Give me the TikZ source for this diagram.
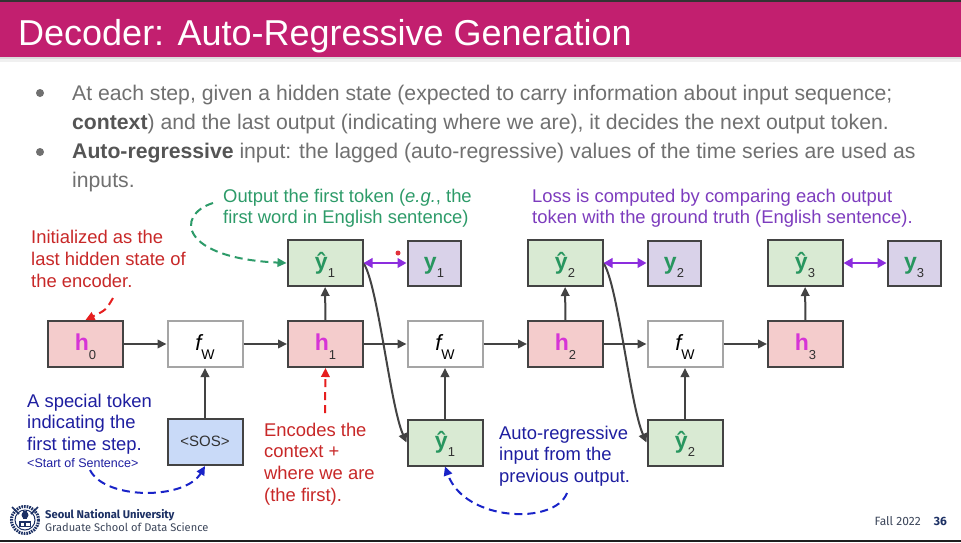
\documentclass[tikz,border=0pt]{standalone}
\usepackage{fontspec}
\setmainfont{Liberation Sans}
\newfontfamily\footfont{Fira Sans}
\usetikzlibrary{arrows.meta}
\definecolor{titlebg}{RGB}{194,31,111}
\definecolor{bodyc}{RGB}{112,112,112}
\definecolor{boldc}{RGB}{85,85,85}
\definecolor{boxline}{RGB}{67,67,67}
\definecolor{fline}{RGB}{165,165,165}
\definecolor{hfill}{RGB}{244,204,204}
\definecolor{yfill}{RGB}{217,234,211}
\definecolor{gtfill}{RGB}{217,210,233}
\definecolor{sosfill}{RGB}{201,218,248}
\definecolor{hcol}{RGB}{214,52,214}
\definecolor{ycol}{RGB}{40,150,95}
\definecolor{subc}{RGB}{50,50,50}
\definecolor{arrowc}{RGB}{67,67,67}
\definecolor{losscol}{RGB}{140,45,222}
\definecolor{purpletext}{RGB}{125,60,190}
\definecolor{greentext}{RGB}{45,155,105}
\definecolor{redtext}{RGB}{200,40,40}
\definecolor{reddash}{RGB}{230,30,30}
\definecolor{bluetext}{RGB}{30,30,160}
\definecolor{bluedash}{RGB}{25,35,200}
\definecolor{navy}{RGB}{28,48,100}
\definecolor{footgray}{RGB}{60,70,90}
\definecolor{reddot}{RGB}{225,50,60}
\newcommand\hlab[1]{{\fontsize{23}{23}\selectfont\bfseries\color{hcol}h}\raisebox{-9pt}{\fontsize{13}{13}\selectfont\color{subc}#1}}
\newcommand\yhlab[1]{{\fontsize{23}{23}\selectfont\bfseries\color{ycol}ŷ}\raisebox{-8pt}{\fontsize{13}{13}\selectfont\color{subc}#1}}
\newcommand\ylab[1]{{\fontsize{23}{23}\selectfont\bfseries\color{ycol}y}\raisebox{-8pt}{\fontsize{13}{13}\selectfont\color{subc}#1}}
\newcommand\fwlab{{\fontsize{22}{22}\selectfont\itshape f}\raisebox{-9pt}{\fontsize{14}{14}\selectfont W}}
\tikzset{
 box/.style={draw=boxline, line width=2pt, minimum width=75pt, minimum height=46pt, inner sep=0pt, text height=16pt, text depth=4pt},
 hbox/.style={box, fill=hfill},
 fbox/.style={box, draw=fline, fill=white},
 yhbox/.style={box, fill=yfill},
 ybox/.style={box, fill=gtfill, minimum width=53pt, minimum height=45pt},
 sosbox/.style={box, fill=sosfill, text height=11pt, text depth=3pt, font=\fontsize{15}{15}\selectfont\color{subc}},
 conn/.style={draw=arrowc, line width=2pt, -{Triangle[length=9pt,width=8.5pt]}},
 loss/.style={draw=losscol, line width=2.5pt, {Triangle[length=9pt,width=9.5pt]}-{Triangle[length=9pt,width=9.5pt]}},
 note/.style={anchor=base west, inner sep=0pt, font=\fontsize{18.4}{22}\selectfont},
 body/.style={anchor=base west, inner sep=0pt, font=\fontsize{21.2}{24}\selectfont, text=bodyc},
 dashy/.style={line width=2pt, dash pattern=on 8pt off 5pt, -{Triangle[length=9pt,width=8.5pt]}},
}
\begin{document}
\begin{tikzpicture}[x=1pt,y=-1pt]
\useasboundingbox (0,0) rectangle (961,542);
\fill[white] (0,0) rectangle (961,542);
% title bar
\fill[titlebg] (0,0) rectangle (961,57);
\fill[black!14] (0,57) rectangle (961,59);
\fill[black!6] (0,59) rectangle (961,62);
\fill[black!80] (0,0) rectangle (961,1.5);
\fill[black!88] (0,539.5) rectangle (961,542);
\node[anchor=base west, inner sep=0pt, text=white, font=\fontsize{36}{40}\selectfont] (title) at (18,45) {Decoder: Auto-Regressive Generation};
% bullets
\fill[bodyc] (40,93) circle (4);
\fill[bodyc] (40,152) circle (4);
\node[body] (l1) at (72,100) {At each step, given a hidden state (expected to carry information about input sequence;};
\node[body] (l2) at (72,129) {\textcolor{boldc}{\bfseries context}) and the last output (indicating where we are), it decides the next output token.};
\node[body] (l3) at (72,158) {\textcolor{boldc}{\bfseries Auto-regressive} input: the lagged (auto-regressive) values of the time series are used as};
\node[body] (l4) at (72,187) {inputs.};
% boxes
\node[hbox] (h0) at (85.5,344) {\hlab{0}};
\node[fbox] (f1) at (205,344) {\fwlab};
\node[hbox] (h1) at (325.5,344) {\hlab{1}};
\node[fbox] (f2) at (445,344) {\fwlab};
\node[hbox] (h2) at (565.5,344) {\hlab{2}};
\node[fbox] (f3) at (685,344) {\fwlab};
\node[hbox] (h3) at (805.5,344) {\hlab{3}};
\node[yhbox] (yh1) at (325,263) {\yhlab{1}};
\node[ybox] (y1) at (434,263) {\ylab{1}};
\node[yhbox] (yh2) at (565,263) {\yhlab{2}};
\node[ybox] (y2) at (674,263) {\ylab{2}};
\node[yhbox] (yh3) at (805,263) {\yhlab{3}};
\node[ybox] (y3) at (914,263) {\ylab{3}};
\node[sosbox] (sos) at (205,442) {<SOS>};
\node[yhbox] (yb1) at (445,442.5) {\yhlab{1}};
\node[yhbox] (yb2) at (685,442.5) {\yhlab{2}};
% connectors
\draw[conn] (h0) -- (f1);
\draw[conn] (f1) -- (h1);
\draw[conn] (h1) -- (f2);
\draw[conn] (f2) -- (h2);
\draw[conn] (h2) -- (f3);
\draw[conn] (f3) -- (h3);
\draw[conn] (sos) -- (f1);
\draw[conn] (h1) -- (yh1);
\draw[conn] (h2) -- (yh2);
\draw[conn] (h3) -- (yh3);
\draw[conn] (yb1) -- (f2);
\draw[conn] (yb2) -- (f3);
\draw[conn] (yh1.east) .. controls (378,285) and (390,405) .. (yb1.west);
\draw[conn] (yh2.east) .. controls (618,285) and (630,405) .. (yb2.west);
\draw[loss] (yh1) -- (y1);
\draw[loss] (yh2) -- (y2);
\draw[loss] (yh3) -- (y3);
\fill[reddot] (398,253) circle (2.5);
% notes
\node[note, text=greentext] (g1) at (223,202) {Output the first token (\textit{e.g.}, the};
\node[note, text=greentext] (g2) at (223,223) {first word in English sentence)};
\node[note, text=purpletext] (p1) at (532,202) {Loss is computed by comparing each output};
\node[note, text=purpletext] (p2) at (532,223) {token with the ground truth (English sentence).};
\node[note, text=redtext] (r1) at (31,243) {Initialized as the};
\node[note, text=redtext] (r2) at (31,265) {last hidden state of};
\node[note, text=redtext] (r3) at (31,287) {the encoder.};
\node[note, text=bluetext] (b1) at (27,407) {A special token};
\node[note, text=bluetext] (b2) at (27,428.5) {indicating the};
\node[note, text=bluetext] (b3) at (27,450) {first time step.};
\node[note, text=bluetext, font=\fontsize{12.5}{14}\selectfont] (b4) at (27,467) {<Start of Sentence>};
\node[note, text=redtext] (e1) at (264,436) {Encodes the};
\node[note, text=redtext] (e2) at (264,457.5) {context +};
\node[note, text=redtext] (e3) at (264,479) {where we are};
\node[note, text=redtext] (e4) at (264,501) {(the first).};
\node[note, text=bluetext] (a1) at (499,439) {Auto-regressive};
\node[note, text=bluetext] (a2) at (499,460.5) {input from the};
\node[note, text=bluetext] (a3) at (499,482) {previous output.};
% dashed annotation arrows
\coordinate (gstart) at (213,203);
\coordinate (rstart) at (113,298);
\coordinate (r2start) at (325,413);
\coordinate (b1start) at (90,470);
\coordinate (b2start) at (567,493);
\draw[dashy, draw=greentext] (gstart) .. controls (175,215) and (180,258) .. (yh1.west);
\draw[dashy, draw=reddash] (rstart) .. controls (106,310) .. (h0.north);
\draw[dashy, draw=reddash] (r2start) -- (h1.south);
\draw[dashy, draw=bluedash] (b1start) .. controls (105,500) and (185,500) .. (sos.south);
\draw[dashy, draw=bluedash] (b2start) .. controls (555,525) and (465,522) .. (yb1.south);
% footer logo (simplified emblem)
\begin{scope}[shift={(25,520)}]
\draw[navy, line width=3pt, dash pattern=on 1.6pt off 1pt] (0,0) circle (13.5);
\draw[navy, line width=1pt] (0,0) circle (10);
\fill[navy] (-6,1) rectangle (6,7);
\fill[white] (-4.5,2.5) rectangle (-0.6,5.5);
\fill[white] (0.6,2.5) rectangle (4.5,5.5);
\fill[navy] (-2,-9) rectangle (2,-1);
\fill[navy] (0,-5) circle (3.5);
\draw[navy, line width=1.5pt] (-13,-13) -- (-6,-6);
\draw[navy, line width=1.5pt] (13,-13) -- (6,-6);
\end{scope}
\node[anchor=base west, inner sep=0pt, text=navy, font=\footfont\bfseries\fontsize{11.2}{12}\selectfont] (snu) at (45,518) {Seoul National University};
\node[anchor=base west, inner sep=0pt, text=footgray, font=\footfont\fontsize{11.1}{12}\selectfont] (gsds) at (45,531.5) {Graduate School of Data Science};
\node[anchor=base east, inner sep=0pt, text=footgray, font=\footfont\fontsize{12}{12}\selectfont] (fall) at (921,525) {Fall 2022};
\node[anchor=base east, inner sep=0pt, text=navy, font=\footfont\bfseries\fontsize{12}{12}\selectfont] (pg) at (947,525) {36};
\end{tikzpicture}
\end{document}
